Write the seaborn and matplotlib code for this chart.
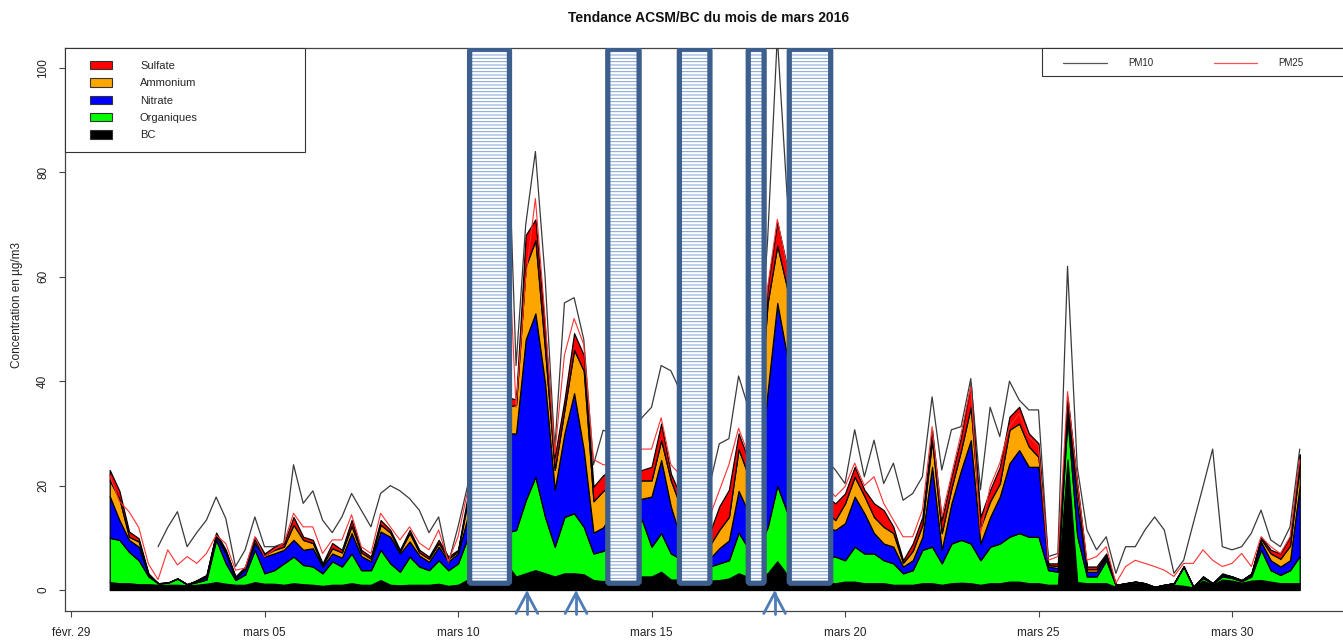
import numpy as np
import matplotlib
matplotlib.use("Agg")
import matplotlib.pyplot as plt
from matplotlib.patches import FancyBboxPatch, Rectangle, Patch
from matplotlib.lines import Line2D
import seaborn as sns

nan = np.nan
# 6-hourly values, one row per day (March 1 ... March 31), 4 values per row
bc = [[1.5, 1.3, 1.3, 1.1], [1.1, 1.0, 1.0, 1.0], [0.9, 1.0, 1.2, 1.5], [1.2, 1.0, 1.0, 1.5],
      [1.2, 1.2, 1.0, 1.3], [1.1, 1.0, 0.8, 1.0], [1.0, 1.3, 1.0, 1.0], [1.9, 1.0, 0.9, 1.0],
      [1.0, 1.0, 1.2, 0.8], [1.0, 2.0, 2.5, 3.0], [3.5, 5.0, 2.6, 3.2], [3.8, 3.2, 2.6, 3.2],
      [3.2, 3.0, 1.9, 1.7], [2.0, 2.0, 2.3, 2.6], [2.6, 3.5, 2.0, 2.0], [2.0, 1.8, 1.8, 1.9],
      [2.2, 3.2, 2.5, 2.5], [3.2, 5.5, 3.0, 2.5], [2.0, 1.5, 1.5, 1.3], [1.6, 1.6, 1.3, 1.3],
      [1.3, 1.0, 1.0, 1.0], [1.3, 1.3, 1.0, 1.3], [1.4, 1.3, 1.0, 1.3], [1.3, 1.6, 1.6, 1.3],
      [1.3, 1.0, 1.0, 25.0], [1.5, 1.3, 1.3, 1.3], [0.6, 1.0, 1.2, 1.0], [0.5, 0.8, 1.0, 0.8],
      [0.5, 1.8, 1.0, 2.0], [1.8, 1.4, 1.8, 1.9], [1.6, 1.3, 1.3, 1.3]]
organiques = [[8.5, 8.3, 6.0, 4.6], [1.5, 0.3, 0.4, 1.2], [0.2, 0.5, 0.8, 8.1], [3.9, 0.9, 2.0, 6.2],
      [2.0, 2.6, 4.1, 5.1], [3.7, 3.5, 2.4, 4.5], [3.5, 5.7, 2.8, 2.8], [5.8, 4.1, 2.6, 5.4],
      [3.5, 2.8, 4.5, 3.0], [4.1, 8.0, 9.5, 11.0], [10.5, 6.0, 8.9, 14.0], [17.9, 10.8, 5.7, 10.8],
      [11.5, 9.1, 5.1, 5.8], [7.0, 8.0, 9.7, 10.9], [5.7, 7.4, 5.0, 4.0], [3.0, 2.7, 2.7, 3.2],
      [3.5, 7.8, 5.5, 5.5], [8.8, 14.5, 12.0, 7.5], [6.0, 5.5, 5.0, 5.1], [4.1, 6.7, 5.7, 5.7],
      [4.4, 4.1, 2.2, 2.8], [6.4, 7.0, 4.1, 7.6], [8.2, 7.6, 4.7, 7.0], [7.6, 8.6, 9.3, 8.9],
      [8.9, 2.8, 2.5, 8.0], [8.9, 1.3, 1.3, 4.4], [0.2, 0.2, 0.3, 0.2], [0.1, 0.2, 0.3, 3.7],
      [0.1, 0.5, 0.2, 0.6], [0.5, 0.3, 0.8, 5.8], [2.2, 1.6, 2.5, 5.2]]
nitrate = [[8.0, 3.8, 2.3, 2.6], [0.3, 0.0, 0.0, 0.0], [0.0, 0.2, 0.5, 0.7], [1.9, 0.3, 1.0, 1.3],
      [3.2, 3.2, 2.6, 3.2], [2.9, 3.5, 1.3, 1.5], [1.7, 3.9, 2.7, 1.7], [3.5, 5.1, 3.5, 2.9],
      [2.1, 1.6, 2.6, 1.7], [1.9, 4.0, 8.0, 11.0], [14.0, 19.0, 18.5, 30.8], [31.3, 25.6, 10.9, 16.0],
      [23.0, 14.7, 4.0, 4.5], [6.0, 6.0, 5.0, 4.0], [9.6, 14.0, 9.0, 4.0], [3.0, 2.0, 1.5, 2.9],
      [3.8, 8.0, 7.0, 12.0], [26.0, 35.0, 30.0, 20.0], [12.0, 7.0, 5.5, 5.1], [7.1, 9.6, 7.7, 3.9],
      [3.2, 3.2, 1.3, 1.9], [2.5, 15.3, 2.6, 7.7], [13.4, 19.8, 3.2, 5.7], [9.0, 14.1, 15.9, 13.4],
      [13.4, 0.7, 0.7, 2.0], [6.1, 0.9, 0.9, 0.5], [0.1, 0.1, 0.1, 0.1], [0.0, 0.0, 0.0, 0.0],
      [0.0, 0.2, 0.1, 0.3], [0.2, 0.1, 0.3, 1.5], [1.9, 1.6, 1.9, 13.5]]
ammonium = [[3.0, 4.1, 0.6, 1.0], [0.1, 0.0, 0.0, 0.0], [0.0, 0.1, 0.2, 0.4], [0.3, 0.2, 0.3, 0.6],
      [0.3, 0.7, 0.6, 2.9], [1.9, 1.0, 0.3, 1.0], [1.0, 1.4, 0.7, 0.5], [1.3, 0.8, 0.4, 1.6],
      [0.6, 0.6, 0.7, 0.5], [0.4, 3.0, 5.0, 5.0], [5.0, 5.0, 5.5, 14.0], [14.0, 6.4, 3.8, 4.5],
      [8.3, 15.2, 6.0, 7.0], [5.0, 4.0, 3.0, 3.5], [3.1, 3.8, 5.0, 6.0], [4.0, 3.0, 2.5, 3.5],
      [4.5, 8.0, 7.0, 10.0], [17.0, 11.0, 13.0, 10.0], [8.0, 4.0, 3.0, 1.9], [3.8, 3.8, 3.3, 3.1],
      [3.2, 2.6, 0.7, 1.8], [2.3, 5.1, 3.2, 2.9], [3.8, 6.4, 3.1, 3.0], [2.5, 6.4, 5.1, 3.9],
      [1.9, 0.3, 0.4, 1.0], [3.0, 0.5, 0.5, 0.4], [0.1, 0.0, 0.0, 0.0], [0.0, 0.0, 0.0, 0.0],
      [0.0, 0.1, 0.0, 0.1], [0.1, 0.1, 0.2, 0.6], [1.3, 1.5, 2.8, 4.0]]
sulfate = [[2.0, 1.5, 1.0, 0.6], [0.2, 0.0, 0.0, 0.0], [0.0, 0.1, 0.2, 0.3], [0.4, 0.2, 0.2, 0.6],
      [0.3, 0.6, 0.6, 1.5], [0.6, 0.6, 0.3, 1.0], [0.5, 1.1, 0.5, 0.4], [0.9, 0.5, 0.3, 0.6],
      [0.5, 0.4, 0.6, 0.4], [0.3, 1.0, 3.0, 3.0], [3.0, 2.0, 1.0, 6.0], [4.0, 3.8, 2.5, 1.9],
      [3.2, 3.0, 2.8, 3.0], [3.0, 2.0, 2.0, 2.0], [2.6, 3.2, 1.3, 2.0], [2.0, 1.5, 2.4, 4.5],
      [5.2, 3.0, 3.0, 5.0], [3.0, 4.5, 4.0, 5.0], [4.0, 4.0, 3.0, 3.2], [1.9, 1.9, 1.2, 2.6],
      [3.2, 1.2, 0.5, 1.4], [1.5, 2.0, 2.5, 2.2], [2.6, 4.5, 2.0, 2.2], [3.2, 2.5, 3.2, 2.5],
      [2.6, 0.3, 0.5, 1.0], [1.1, 0.5, 0.5, 0.4], [0.0, 0.0, 0.0, 0.0], [0.0, 0.0, 0.0, 0.0],
      [0.0, 0.0, 0.0, 0.2], [0.0, 0.0, 0.1, 0.4], [0.7, 1.0, 1.7, 2.0]]
pm10 = [[nan, nan, nan, nan], [nan, 8.3, 12, 15], [8.3, 11, 13.4, 17.8], [13.7, 4.5, 7.7, 14],
      [8.3, 8.3, 9, 24], [16.6, 19, 13.4, 11], [14, 18.5, 15.3, 12.1], [18.5, 20, 19, 17.5],
      [15.3, 11, 14, 5.1], [12.1, 20, 35, 50], [70, 98, 43, 70], [84, 60, 27, 55],
      [56, 48, 24, 30.6], [30, 30, 30, 33], [35, 43, 42, 38], [30, 24, 20, 28],
      [29, 41, 35, 40], [67, 106, 76, 60], [45, 30, 25, 23], [20.4, 30.7, 21.7, 28.7],
      [20.4, 24.3, 17.2, 18.5], [21.7, 37, 23, 30.7], [31.3, 40.5, 19.2, 35], [29.4, 40, 36.4, 34.5],
      [34.5, 6.4, 7.0, 62], [23.6, 11.5, 7.7, 10.2], [3.2, 8.3, 8.3, 11.5], [14, 11.5, 3.2, 5.7],
      [12.8, 19.8, 27, 8.3], [7.7, 8.3, 10.9, 15.3], [9.6, 8.3, 12.1, 27]]
pm25 = [[22, 17, 15, 12], [5, 2, 7.7, 4.8], [6.4, 5.1, 7, 10.5], [8.9, 3.8, 4.2, 10.2],
      [6.4, 7.7, 9, 14.7], [12.1, 12.1, 7, 9.6], [9.6, 14.4, 8.3, 7], [14.7, 12.1, 9.6, 12.1],
      [9, 7.7, 11.5, 5.5], [10.2, 19, 30, 45], [60, 75, 35, 60], [75, 52, 26, 45],
      [52, 47, 25, 24], [24, 24, 25, 27], [27, 33, 24, 22], [18, 15, 14, 19],
      [24, 31, 26, 35], [58, 71, 62, 48], [35, 25, 20, 17.9], [19.8, 24.3, 20, 21.7],
      [16.6, 13.4, 10.2, 10.2], [15.3, 31.3, 14, 22], [30, 39, 10.9, 19.8], [24.3, 31.3, 33.8, 29.4],
      [27.5, 5.7, 6.4, 38], [21, 5.7, 6.4, 8.3], [1.3, 4.5, 5.7, 5.1], [4.5, 3.8, 2.6, 5.1],
      [5.1, 7.7, 5.7, 4.5], [5.1, 7, 4.5, 10.2], [8.3, 7, 10.2, 25]]

components = ["BC", "Organiques", "Nitrate", "Ammonium", "Sulfate"]
comp_colors = ["#000000", "#00FF00", "#0000FF", "#FFA500", "#FF0000"]
tick_days = [0, 5, 10, 15, 20, 25, 30]
tick_labels = ["févr. 29", "mars 05", "mars 10", "mars 15", "mars 20", "mars 25", "mars 30"]
# annotation overlays (days since Feb 29)
masked_periods = [(10.30, 11.33), (13.87, 14.68), (15.72, 16.51), (17.50, 17.91), (18.56, 19.63)]
arrow_days = [11.78, 13.05, 18.18]

t = np.arange(1.0, 32.0, 0.25)
series = [np.ravel(np.array(s, dtype=float)) for s in (bc, organiques, nitrate, ammonium, sulfate)]
pm10_v = np.ravel(np.array(pm10, dtype=float))
pm25_v = np.ravel(np.array(pm25, dtype=float))

sns.set_theme(style="ticks")
plt.rcParams['font.family'] = ['Liberation Sans', 'DejaVu Sans']
plt.rcParams['hatch.linewidth'] = 0.7

W, H = 1343, 641
fig = plt.figure(figsize=(W / 100, H / 100), dpi=100)
ax = fig.add_axes([65 / W, 30 / H, 1278 / W, 563 / H])
ax.set_facecolor("white")

ax.stackplot(t, *series, colors=comp_colors, edgecolor="black", linewidth=0.9, zorder=2)
sns.lineplot(x=t, y=pm10_v, ax=ax, color="#3a3a3a", linewidth=0.9, estimator=None, zorder=3)
sns.lineplot(x=t, y=pm25_v, ax=ax, color="#ff3030", linewidth=0.8, estimator=None, zorder=3)

ax.set_xlim(-0.155, 32.868)
ax.set_ylim(-4.02, 103.83)

# hatched boxes over the masked periods
asp = (38.7 / 5.22)
for x0, x1 in masked_periods:
    y0, y1 = 1.3, 103.6
    inner = FancyBboxPatch((x0, y0), x1 - x0, y1 - y0,
                           boxstyle="round,pad=0,rounding_size=0.05", mutation_aspect=asp,
                           facecolor="white", edgecolor="#7d9fd8", hatch="-----",
                           linewidth=0, zorder=4)
    ax.add_patch(inner)
    border = FancyBboxPatch((x0, y0), x1 - x0, y1 - y0,
                            boxstyle="round,pad=0,rounding_size=0.05", mutation_aspect=asp,
                            facecolor="none", edgecolor="#3d5f8e", linewidth=3.8, zorder=5)
    ax.add_patch(border)

for a in arrow_days:
    ax.plot([a - 0.28, a, a + 0.28], [-4.5, -0.6, -4.5], color="#4e7cb6", lw=2.0,
            clip_on=False, zorder=6, solid_joinstyle="miter")
    ax.plot([a, a], [-0.6, -4.5], color="#4e7cb6", lw=2.0, clip_on=False, zorder=6)

ax.set_xticks(tick_days)
ax.set_xticklabels(tick_labels)
ax.set_yticks([0, 20, 40, 60, 80, 100])
ax.set_yticklabels(["0", "20", "40", "60", "80", "100"], rotation=90, va="center")
ax.tick_params(axis="both", labelsize=8.5, length=4.5, width=0.8, color="#444444", labelcolor="#222222")
ax.tick_params(axis="x", pad=7)
ax.tick_params(axis="y", pad=7)
for s in ["left", "bottom", "top"]:
    ax.spines[s].set_color("#444444")
    ax.spines[s].set_linewidth(0.9)
ax.spines["right"].set_visible(False)
ax.set_xlabel("")
ax.set_ylabel("")

fig.text(709 / W, 1 - 18 / H, "Tendance ACSM/BC du mois de mars 2016", ha="center", va="center",
         fontsize=10, fontweight="bold", color="#111111")
fig.text(17 / W, 1 - 305 / H, "Concentration en µg/m3", rotation=90, ha="center", va="center",
         fontsize=8.5, color="#222222")

# legend frames
ax.add_patch(Rectangle((0, (611 - 152) / 563), 240 / 1278, 104 / 563, transform=ax.transAxes,
                       facecolor="white", edgecolor="#333333", lw=0.8, zorder=7, clip_on=False))
ax.add_patch(Rectangle(((1042 - 65) / 1278, (611 - 76) / 563), 320 / 1278, 28 / 563, transform=ax.transAxes,
                       facecolor="white", edgecolor="#333333", lw=0.8, zorder=7, clip_on=False))

order = [4, 3, 2, 1, 0]
handles = [Patch(facecolor=comp_colors[i], edgecolor="#333333", linewidth=0.8) for i in order]
labels = [components[i] for i in order]
leg1 = ax.legend(handles, labels, loc="upper left", bbox_to_anchor=(90 / W, 1 - 61 / H),
                 bbox_transform=fig.transFigure, frameon=False, fontsize=8, borderpad=0,
                 borderaxespad=0, handlelength=2.0, handleheight=0.75, handletextpad=2.5,
                 labelspacing=0.66)
leg1.set_zorder(8)
ax.add_artist(leg1)
h2 = [Line2D([], [], color="#555555", lw=0.9), Line2D([], [], color="#ff5050", lw=0.9)]
leg2 = ax.legend(h2, ["PM10", "PM25"], loc="upper left", bbox_to_anchor=(1063 / W, 1 - 58.5 / H),
                 bbox_transform=fig.transFigure, frameon=False, fontsize=7, ncol=2, borderpad=0,
                 borderaxespad=0, handlelength=4.5, handletextpad=2.2, columnspacing=6.2)
leg2.set_zorder(8)

fig.savefig("out.png", dpi=100, facecolor="white")
